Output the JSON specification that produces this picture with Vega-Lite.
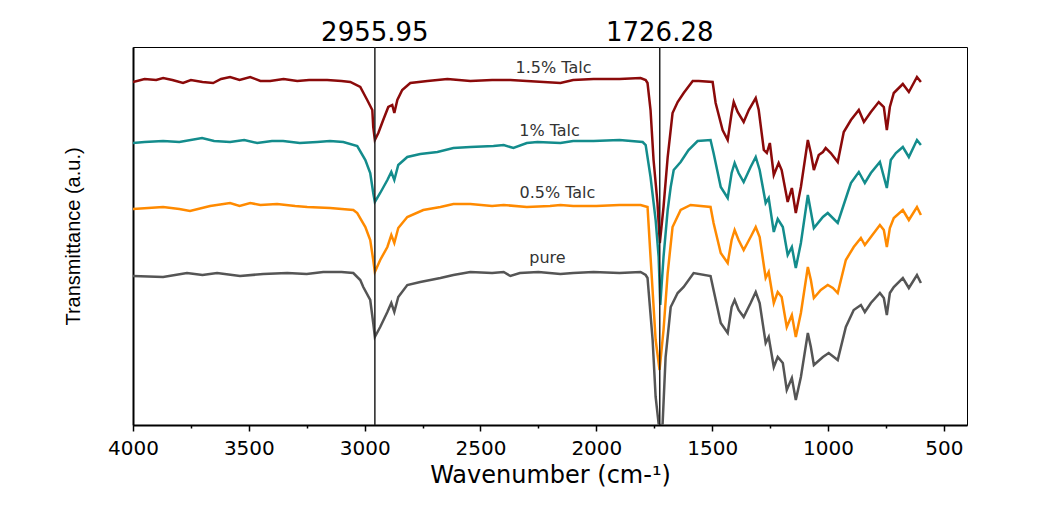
{
"$schema": "https://vega.github.io/schema/vega-lite/v6.json",
"width": 834, "height": 378,
"autosize": {"type": "none"},
"padding": {"left": 133, "top": 47, "right": 71, "bottom": 88},
"background": "white",
"config": {"view": {"stroke": "black", "strokeWidth": 1}, "axis": {"grid": false}},
"datasets": {
"spectra": [
{"s":"1.5%","wn":4000,"t":343},{"s":"1.5%","wn":3950,"t":346},{"s":"1.5%","wn":3900,"t":345},{"s":"1.5%","wn":3870,"t":347},{"s":"1.5%","wn":3830,"t":345},{"s":"1.5%","wn":3784,"t":342},{"s":"1.5%","wn":3750,"t":345},{"s":"1.5%","wn":3700,"t":343},{"s":"1.5%","wn":3654,"t":342},{"s":"1.5%","wn":3620,"t":346},{"s":"1.5%","wn":3581,"t":348},{"s":"1.5%","wn":3540,"t":345},{"s":"1.5%","wn":3494,"t":348},{"s":"1.5%","wn":3450,"t":344},{"s":"1.5%","wn":3408,"t":344},{"s":"1.5%","wn":3350,"t":346},{"s":"1.5%","wn":3291,"t":344},{"s":"1.5%","wn":3240,"t":345},{"s":"1.5%","wn":3162,"t":345},{"s":"1.5%","wn":3100,"t":344},{"s":"1.5%","wn":3062,"t":343},{"s":"1.5%","wn":3019,"t":338},{"s":"1.5%","wn":2989,"t":325},{"s":"1.5%","wn":2967,"t":315},{"s":"1.5%","wn":2963,"t":298},{"s":"1.5%","wn":2956,"t":285},{"s":"1.5%","wn":2941,"t":292},{"s":"1.5%","wn":2920,"t":305},{"s":"1.5%","wn":2898,"t":318},{"s":"1.5%","wn":2881,"t":320},{"s":"1.5%","wn":2872,"t":312},{"s":"1.5%","wn":2859,"t":325},{"s":"1.5%","wn":2838,"t":335},{"s":"1.5%","wn":2803,"t":342},{"s":"1.5%","wn":2729,"t":344},{"s":"1.5%","wn":2643,"t":346},{"s":"1.5%","wn":2544,"t":344},{"s":"1.5%","wn":2450,"t":345},{"s":"1.5%","wn":2371,"t":345},{"s":"1.5%","wn":2300,"t":344},{"s":"1.5%","wn":2155,"t":342},{"s":"1.5%","wn":2100,"t":345},{"s":"1.5%","wn":2012,"t":346},{"s":"1.5%","wn":1900,"t":346},{"s":"1.5%","wn":1809,"t":347},{"s":"1.5%","wn":1787,"t":345},{"s":"1.5%","wn":1779,"t":342},{"s":"1.5%","wn":1766,"t":315},{"s":"1.5%","wn":1753,"t":265},{"s":"1.5%","wn":1736,"t":222},{"s":"1.5%","wn":1726,"t":182},{"s":"1.5%","wn":1710,"t":218},{"s":"1.5%","wn":1692,"t":268},{"s":"1.5%","wn":1671,"t":312},{"s":"1.5%","wn":1649,"t":323},{"s":"1.5%","wn":1623,"t":332},{"s":"1.5%","wn":1584,"t":344},{"s":"1.5%","wn":1558,"t":344},{"s":"1.5%","wn":1498,"t":343},{"s":"1.5%","wn":1485,"t":322},{"s":"1.5%","wn":1455,"t":295},{"s":"1.5%","wn":1433,"t":285},{"s":"1.5%","wn":1416,"t":312},{"s":"1.5%","wn":1407,"t":323},{"s":"1.5%","wn":1390,"t":313},{"s":"1.5%","wn":1364,"t":303},{"s":"1.5%","wn":1342,"t":315},{"s":"1.5%","wn":1312,"t":327},{"s":"1.5%","wn":1299,"t":315},{"s":"1.5%","wn":1277,"t":275},{"s":"1.5%","wn":1264,"t":272},{"s":"1.5%","wn":1251,"t":282},{"s":"1.5%","wn":1234,"t":250},{"s":"1.5%","wn":1213,"t":262},{"s":"1.5%","wn":1200,"t":255},{"s":"1.5%","wn":1174,"t":223},{"s":"1.5%","wn":1156,"t":237},{"s":"1.5%","wn":1139,"t":212},{"s":"1.5%","wn":1117,"t":238},{"s":"1.5%","wn":1087,"t":285},{"s":"1.5%","wn":1074,"t":272},{"s":"1.5%","wn":1061,"t":255},{"s":"1.5%","wn":1040,"t":270},{"s":"1.5%","wn":1022,"t":273},{"s":"1.5%","wn":1010,"t":277},{"s":"1.5%","wn":988,"t":272},{"s":"1.5%","wn":958,"t":263},{"s":"1.5%","wn":932,"t":293},{"s":"1.5%","wn":901,"t":305},{"s":"1.5%","wn":867,"t":315},{"s":"1.5%","wn":845,"t":303},{"s":"1.5%","wn":815,"t":313},{"s":"1.5%","wn":781,"t":323},{"s":"1.5%","wn":759,"t":318},{"s":"1.5%","wn":746,"t":295},{"s":"1.5%","wn":733,"t":318},{"s":"1.5%","wn":716,"t":332},{"s":"1.5%","wn":677,"t":341},{"s":"1.5%","wn":651,"t":333},{"s":"1.5%","wn":616,"t":348},{"s":"1.5%","wn":599,"t":343},
{"s":"1%","wn":4000,"t":282},{"s":"1%","wn":3950,"t":283},{"s":"1%","wn":3870,"t":284},{"s":"1%","wn":3800,"t":283},{"s":"1%","wn":3702,"t":287},{"s":"1%","wn":3650,"t":284},{"s":"1%","wn":3581,"t":283},{"s":"1%","wn":3520,"t":285},{"s":"1%","wn":3464,"t":282},{"s":"1%","wn":3400,"t":284},{"s":"1%","wn":3352,"t":284},{"s":"1%","wn":3280,"t":282},{"s":"1%","wn":3205,"t":283},{"s":"1%","wn":3150,"t":284},{"s":"1%","wn":3092,"t":283},{"s":"1%","wn":3032,"t":279},{"s":"1%","wn":2997,"t":265},{"s":"1%","wn":2976,"t":252},{"s":"1%","wn":2963,"t":232},{"s":"1%","wn":2956,"t":223},{"s":"1%","wn":2933,"t":232},{"s":"1%","wn":2902,"t":245},{"s":"1%","wn":2885,"t":253},{"s":"1%","wn":2872,"t":245},{"s":"1%","wn":2855,"t":260},{"s":"1%","wn":2816,"t":268},{"s":"1%","wn":2760,"t":271},{"s":"1%","wn":2686,"t":273},{"s":"1%","wn":2617,"t":277},{"s":"1%","wn":2544,"t":278},{"s":"1%","wn":2444,"t":279},{"s":"1%","wn":2400,"t":280},{"s":"1%","wn":2358,"t":277},{"s":"1%","wn":2300,"t":282},{"s":"1%","wn":2254,"t":283},{"s":"1%","wn":2155,"t":282},{"s":"1%","wn":2100,"t":284},{"s":"1%","wn":2012,"t":284},{"s":"1%","wn":1900,"t":285},{"s":"1%","wn":1800,"t":283},{"s":"1%","wn":1787,"t":280},{"s":"1%","wn":1766,"t":248},{"s":"1%","wn":1744,"t":205},{"s":"1%","wn":1731,"t":168},{"s":"1%","wn":1724,"t":120},{"s":"1%","wn":1710,"t":168},{"s":"1%","wn":1692,"t":215},{"s":"1%","wn":1679,"t":238},{"s":"1%","wn":1666,"t":255},{"s":"1%","wn":1636,"t":263},{"s":"1%","wn":1602,"t":275},{"s":"1%","wn":1563,"t":284},{"s":"1%","wn":1507,"t":285},{"s":"1%","wn":1494,"t":272},{"s":"1%","wn":1463,"t":238},{"s":"1%","wn":1433,"t":227},{"s":"1%","wn":1416,"t":252},{"s":"1%","wn":1403,"t":262},{"s":"1%","wn":1386,"t":252},{"s":"1%","wn":1364,"t":243},{"s":"1%","wn":1334,"t":258},{"s":"1%","wn":1312,"t":268},{"s":"1%","wn":1295,"t":255},{"s":"1%","wn":1269,"t":222},{"s":"1%","wn":1256,"t":227},{"s":"1%","wn":1234,"t":193},{"s":"1%","wn":1217,"t":206},{"s":"1%","wn":1195,"t":198},{"s":"1%","wn":1174,"t":170},{"s":"1%","wn":1156,"t":178},{"s":"1%","wn":1139,"t":157},{"s":"1%","wn":1117,"t":182},{"s":"1%","wn":1087,"t":230},{"s":"1%","wn":1061,"t":197},{"s":"1%","wn":1022,"t":208},{"s":"1%","wn":1001,"t":212},{"s":"1%","wn":958,"t":202},{"s":"1%","wn":914,"t":233},{"s":"1%","wn":901,"t":242},{"s":"1%","wn":867,"t":253},{"s":"1%","wn":841,"t":242},{"s":"1%","wn":815,"t":252},{"s":"1%","wn":776,"t":263},{"s":"1%","wn":746,"t":237},{"s":"1%","wn":729,"t":265},{"s":"1%","wn":707,"t":272},{"s":"1%","wn":677,"t":278},{"s":"1%","wn":651,"t":268},{"s":"1%","wn":616,"t":285},{"s":"1%","wn":599,"t":280},
{"s":"0.5%","wn":4000,"t":216},{"s":"0.5%","wn":3870,"t":218},{"s":"0.5%","wn":3800,"t":216},{"s":"0.5%","wn":3754,"t":214},{"s":"0.5%","wn":3667,"t":219},{"s":"0.5%","wn":3581,"t":222},{"s":"0.5%","wn":3540,"t":219},{"s":"0.5%","wn":3494,"t":222},{"s":"0.5%","wn":3450,"t":220},{"s":"0.5%","wn":3378,"t":221},{"s":"0.5%","wn":3300,"t":219},{"s":"0.5%","wn":3248,"t":218},{"s":"0.5%","wn":3149,"t":217},{"s":"0.5%","wn":3049,"t":215},{"s":"0.5%","wn":3032,"t":212},{"s":"0.5%","wn":2997,"t":198},{"s":"0.5%","wn":2976,"t":185},{"s":"0.5%","wn":2963,"t":165},{"s":"0.5%","wn":2956,"t":153},{"s":"0.5%","wn":2933,"t":165},{"s":"0.5%","wn":2902,"t":178},{"s":"0.5%","wn":2885,"t":190},{"s":"0.5%","wn":2872,"t":182},{"s":"0.5%","wn":2855,"t":197},{"s":"0.5%","wn":2816,"t":208},{"s":"0.5%","wn":2747,"t":215},{"s":"0.5%","wn":2673,"t":218},{"s":"0.5%","wn":2617,"t":221},{"s":"0.5%","wn":2544,"t":221},{"s":"0.5%","wn":2450,"t":219},{"s":"0.5%","wn":2400,"t":220},{"s":"0.5%","wn":2300,"t":218},{"s":"0.5%","wn":2200,"t":219},{"s":"0.5%","wn":2155,"t":220},{"s":"0.5%","wn":2100,"t":219},{"s":"0.5%","wn":2000,"t":219},{"s":"0.5%","wn":1900,"t":220},{"s":"0.5%","wn":1809,"t":220},{"s":"0.5%","wn":1779,"t":218},{"s":"0.5%","wn":1766,"t":168},{"s":"0.5%","wn":1744,"t":85},{"s":"0.5%","wn":1727,"t":55},{"s":"0.5%","wn":1710,"t":95},{"s":"0.5%","wn":1692,"t":152},{"s":"0.5%","wn":1671,"t":198},{"s":"0.5%","wn":1636,"t":215},{"s":"0.5%","wn":1593,"t":220},{"s":"0.5%","wn":1507,"t":218},{"s":"0.5%","wn":1494,"t":202},{"s":"0.5%","wn":1463,"t":172},{"s":"0.5%","wn":1433,"t":162},{"s":"0.5%","wn":1416,"t":185},{"s":"0.5%","wn":1403,"t":195},{"s":"0.5%","wn":1386,"t":185},{"s":"0.5%","wn":1364,"t":175},{"s":"0.5%","wn":1334,"t":188},{"s":"0.5%","wn":1312,"t":198},{"s":"0.5%","wn":1295,"t":188},{"s":"0.5%","wn":1269,"t":147},{"s":"0.5%","wn":1256,"t":153},{"s":"0.5%","wn":1234,"t":122},{"s":"0.5%","wn":1217,"t":133},{"s":"0.5%","wn":1200,"t":128},{"s":"0.5%","wn":1178,"t":98},{"s":"0.5%","wn":1156,"t":110},{"s":"0.5%","wn":1139,"t":88},{"s":"0.5%","wn":1117,"t":112},{"s":"0.5%","wn":1087,"t":158},{"s":"0.5%","wn":1074,"t":145},{"s":"0.5%","wn":1061,"t":127},{"s":"0.5%","wn":1031,"t":135},{"s":"0.5%","wn":1001,"t":140},{"s":"0.5%","wn":979,"t":137},{"s":"0.5%","wn":958,"t":132},{"s":"0.5%","wn":923,"t":165},{"s":"0.5%","wn":889,"t":178},{"s":"0.5%","wn":858,"t":187},{"s":"0.5%","wn":841,"t":180},{"s":"0.5%","wn":815,"t":188},{"s":"0.5%","wn":776,"t":200},{"s":"0.5%","wn":759,"t":195},{"s":"0.5%","wn":746,"t":178},{"s":"0.5%","wn":733,"t":197},{"s":"0.5%","wn":716,"t":207},{"s":"0.5%","wn":677,"t":215},{"s":"0.5%","wn":651,"t":205},{"s":"0.5%","wn":616,"t":218},{"s":"0.5%","wn":599,"t":210},
{"s":"pure","wn":4000,"t":149},{"s":"pure","wn":3870,"t":148},{"s":"pure","wn":3767,"t":152},{"s":"pure","wn":3700,"t":150},{"s":"pure","wn":3637,"t":152},{"s":"pure","wn":3538,"t":149},{"s":"pure","wn":3438,"t":151},{"s":"pure","wn":3334,"t":152},{"s":"pure","wn":3250,"t":151},{"s":"pure","wn":3179,"t":153},{"s":"pure","wn":3100,"t":153},{"s":"pure","wn":3049,"t":152},{"s":"pure","wn":3019,"t":145},{"s":"pure","wn":3006,"t":138},{"s":"pure","wn":2976,"t":125},{"s":"pure","wn":2963,"t":102},{"s":"pure","wn":2956,"t":88},{"s":"pure","wn":2933,"t":98},{"s":"pure","wn":2902,"t":113},{"s":"pure","wn":2885,"t":122},{"s":"pure","wn":2872,"t":113},{"s":"pure","wn":2855,"t":128},{"s":"pure","wn":2816,"t":140},{"s":"pure","wn":2760,"t":143},{"s":"pure","wn":2673,"t":147},{"s":"pure","wn":2617,"t":150},{"s":"pure","wn":2544,"t":153},{"s":"pure","wn":2450,"t":152},{"s":"pure","wn":2400,"t":153},{"s":"pure","wn":2371,"t":149},{"s":"pure","wn":2330,"t":152},{"s":"pure","wn":2250,"t":153},{"s":"pure","wn":2155,"t":151},{"s":"pure","wn":2100,"t":152},{"s":"pure","wn":2012,"t":153},{"s":"pure","wn":1900,"t":152},{"s":"pure","wn":1809,"t":153},{"s":"pure","wn":1787,"t":150},{"s":"pure","wn":1779,"t":147},{"s":"pure","wn":1757,"t":85},{"s":"pure","wn":1744,"t":28},{"s":"pure","wn":1731,"t":1},{"s":"pure","wn":1722,"t":-1},{"s":"pure","wn":1714,"t":1},{"s":"pure","wn":1701,"t":68},{"s":"pure","wn":1679,"t":118},{"s":"pure","wn":1649,"t":132},{"s":"pure","wn":1623,"t":138},{"s":"pure","wn":1580,"t":152},{"s":"pure","wn":1507,"t":149},{"s":"pure","wn":1494,"t":135},{"s":"pure","wn":1463,"t":102},{"s":"pure","wn":1433,"t":92},{"s":"pure","wn":1416,"t":118},{"s":"pure","wn":1403,"t":125},{"s":"pure","wn":1386,"t":115},{"s":"pure","wn":1364,"t":108},{"s":"pure","wn":1334,"t":122},{"s":"pure","wn":1312,"t":133},{"s":"pure","wn":1295,"t":122},{"s":"pure","wn":1269,"t":82},{"s":"pure","wn":1256,"t":88},{"s":"pure","wn":1234,"t":58},{"s":"pure","wn":1217,"t":68},{"s":"pure","wn":1195,"t":62},{"s":"pure","wn":1178,"t":35},{"s":"pure","wn":1156,"t":47},{"s":"pure","wn":1139,"t":25},{"s":"pure","wn":1117,"t":48},{"s":"pure","wn":1087,"t":92},{"s":"pure","wn":1074,"t":78},{"s":"pure","wn":1061,"t":60},{"s":"pure","wn":1022,"t":68},{"s":"pure","wn":997,"t":72},{"s":"pure","wn":958,"t":65},{"s":"pure","wn":923,"t":98},{"s":"pure","wn":889,"t":115},{"s":"pure","wn":858,"t":120},{"s":"pure","wn":841,"t":113},{"s":"pure","wn":815,"t":122},{"s":"pure","wn":776,"t":132},{"s":"pure","wn":759,"t":127},{"s":"pure","wn":746,"t":110},{"s":"pure","wn":733,"t":132},{"s":"pure","wn":716,"t":138},{"s":"pure","wn":677,"t":147},{"s":"pure","wn":651,"t":137},{"s":"pure","wn":616,"t":150},{"s":"pure","wn":599,"t":142}
],
"peaks": [{"x": 2955.95, "label": "2955.95"}, {"x": 1726.28, "label": "1726.28"}],
"names": [{"x": 2185, "y": 357, "label": "1.5% Talc"}, {"x": 2202, "y": 294, "label": "1% Talc"}, {"x": 2168, "y": 232, "label": "0.5% Talc"}, {"x": 2211, "y": 167, "label": "pure"}]
},
"layer": [
{"data": {"name": "spectra"},
 "mark": {"type": "line", "strokeWidth": 2.5, "clip": true},
 "encoding": {
  "x": {"field": "wn", "type": "quantitative",
   "scale": {"domain": [400, 4000], "reverse": true, "nice": false, "zero": false},
   "axis": {"values": [4000,3750,3500,3250,3000,2750,2500,2250,2000,1750,1500,1250,1000,750,500],
    "format": "d", "labelExpr": "datum.value % 500 === 0 ? datum.label : ''",
    "tickSize": {"condition": {"test": "datum.value % 500 === 0", "value": 6}, "value": 3},
    "tickColor": "black", "tickWidth": 1.5, "domainColor": "black", "domainWidth": 2,
    "labelFont": "DejaVu Sans", "labelFontSize": 20, "labelColor": "black", "labelPadding": 7,
    "labelOverlap": false, "labelFlush": false,
    "title": "Wavenumber (cm-¹)", "titleFont": "DejaVu Sans", "titleFontSize": 24,
    "titleFontWeight": "normal", "titleColor": "black", "titlePadding": 5}},
  "y": {"field": "t", "type": "quantitative",
   "scale": {"domain": [0, 378], "nice": false, "zero": false},
   "axis": {"ticks": false, "labels": false, "domainColor": "black", "domainWidth": 2,
    "title": "Transmittance (a.u.)", "titleFont": "Liberation Sans", "titleFontSize": 20,
    "titleFontWeight": "normal", "titleColor": "black", "titlePadding": 50}},
  "color": {"field": "s", "type": "nominal",
   "scale": {"domain": ["1.5%", "1%", "0.5%", "pure"], "range": ["#8b0a0a", "#138c8c", "#ff8a00", "#555555"]},
   "legend": null}
 }},
{"data": {"name": "peaks"},
 "mark": {"type": "rule", "color": "#222222", "strokeWidth": 1.5},
 "encoding": {"x": {"field": "x", "type": "quantitative"}}},
{"data": {"name": "peaks"},
 "mark": {"type": "text", "baseline": "bottom", "align": "center", "font": "DejaVu Sans", "fontSize": 26, "color": "black", "dy": -1, "clip": false},
 "encoding": {"x": {"field": "x", "type": "quantitative"}, "y": {"datum": 378}, "text": {"field": "label"}}},
{"data": {"name": "names"},
 "mark": {"type": "text", "baseline": "middle", "align": "center", "font": "DejaVu Sans", "fontSize": 16, "color": "#333333"},
 "encoding": {"x": {"field": "x", "type": "quantitative"}, "y": {"field": "y", "type": "quantitative"}, "text": {"field": "label"}}}
]
}
